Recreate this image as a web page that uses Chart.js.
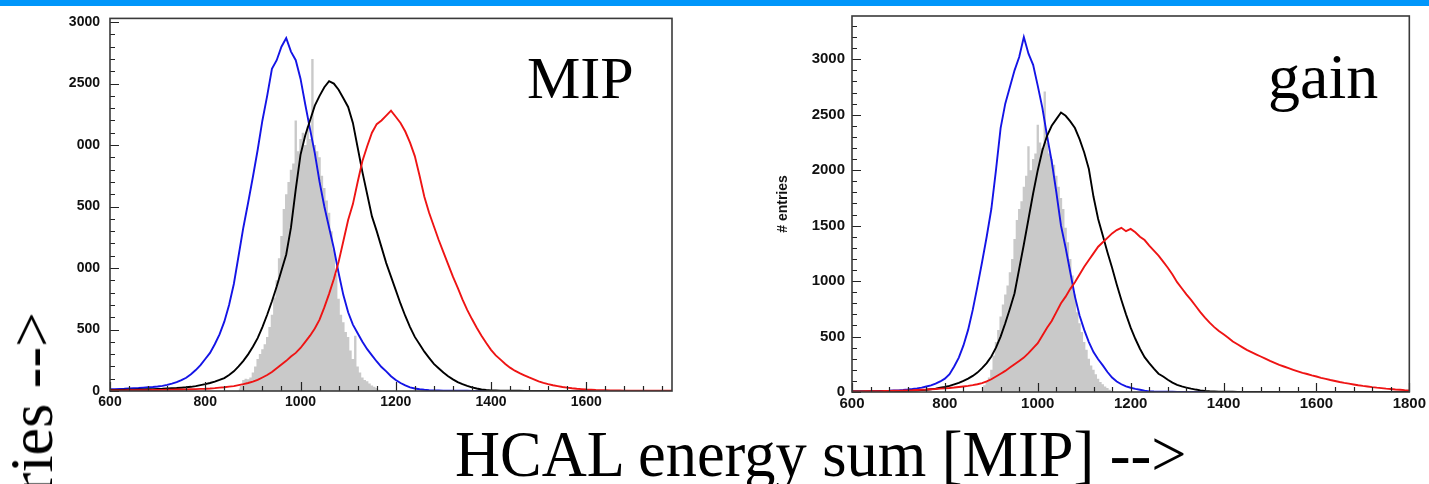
<!DOCTYPE html>
<html>
<head>
<meta charset="utf-8">
<title>HCAL energy sum</title>
<script src="https://cdn.jsdelivr.net/npm/chart.js@4.4.0/dist/chart.umd.min.js"></script>
<style>
  html, body { margin: 0; padding: 0; background: #fff; width: 1429px; height: 484px; overflow: hidden; position: relative; }
  .bar { position: absolute; left: 0; top: 0; width: 1429px; height: 6px; background: #0096fa; }
  canvas { position: absolute; }
  #cMip { left: 0; top: 0; }
  #cGain { left: 730px; top: 0; }
  .serif { position: absolute; font-family: "Liberation Serif", "Times New Roman", serif; line-height: 1; white-space: nowrap; color: #000; }
</style>
</head>
<body>
<div class="bar"></div>
<canvas id="cMip" width="700" height="420"></canvas>
<canvas id="cGain" width="699" height="420"></canvas>
<div class="serif" style="left:527px; top:48px; font-size:60px;">MIP</div>
<div class="serif" style="left:1268px; top:45px; font-size:64px;">gain</div>
<div class="serif" style="left:455px; top:421px; font-size:66px; transform-origin:0 0; transform:scaleX(0.945);">HCAL energy sum [MIP] --&gt;</div>
<div class="serif" style="left:0; top:312px; font-size:62px; transform-origin:0 0; transform:rotate(-90deg) translateX(-100%);"># entries --&gt;</div>

<script>
// ---------- energy grids ----------
function grid(from, to, step) { const g = []; for (let e = from; e <= to + 1e-9; e += step) g.push(e); return g; }
const energyMip  = grid(600, 1780, 10);   // bin centres, MIP-calibrated panel
const energyGain = grid(600, 1800, 10);   // bin centres, gain-calibrated panel
const grayEnergyMip  = grid(870, 1170, 5);
const grayEnergyGain = grid(880, 1165, 5);

// ---------- MIP panel entries ----------
const mipBlue = [
  15,15,17,18,20,22,24,27,30,33,
  37,42,50,60,72,88,108,137,170,210,
  260,310,380,460,564,700,870,1100,1330,1531,
  1740,1960,2200,2400,2620,2690,2800,2870,2760,2690,
  2540,2330,2130,1935,1700,1500,1330,1160,960,780,
  640,540,470,400,340,290,240,195,160,120,
  90,65,45,30,20,14,10,7,5,4,
  3,3,2,2,2,2,1,1,1,1,
  1,1,1,1,1,1,1,1,1,1,
  0,0,0,0,0,0,0,0,0,0,
  0,0,0,0,0,0,0,0,0,0,
  0,0,0,0,0,0,0,0,0
];
const mipBlack = [
  8,8,9,10,10,11,12,13,14,15,
  17,18,20,22,24,27,30,34,40,48,
  56,65,76,90,105,130,160,200,245,298,
  360,430,520,620,730,850,980,1110,1330,1640,
  1920,2080,2200,2320,2400,2470,2520,2500,2450,2380,
  2310,2180,1980,1780,1600,1420,1300,1170,1040,930,
  820,710,610,520,440,380,320,270,220,185,
  150,120,95,72,55,42,30,20,12,8,
  5,4,3,3,2,2,2,1,1,1,
  1,1,1,1,1,1,0,0,0,0,
  0,0,0,0,0,0,0,0,0,0,
  0,0,0,0,0,0,0,0,0
];
const mipRed = [
  5,5,5,5,6,6,6,7,7,8,
  8,9,10,11,12,12,13,14,15,17,
  18,20,23,27,31,36,40,48,56,65,
  76,90,110,130,155,185,215,245,280,310,
  350,400,450,508,580,680,790,910,1050,1220,
  1390,1520,1700,1870,1990,2100,2170,2200,2240,2280,
  2230,2180,2110,2020,1910,1750,1580,1450,1340,1230,
  1130,1030,930,840,745,660,585,515,450,390,
  335,290,255,220,190,165,145,128,110,94,
  78,66,56,47,40,33,27,22,18,15,
  12,10,8,7,6,5,4,4,3,3,
  3,2,2,2,2,2,2,2,2
];
const mipGray = [
  20,40,90,100,95,110,150,200,260,300,
  340,380,440,520,620,760,900,1080,1260,1480,
  1600,1700,1800,1850,2200,1950,2050,2100,2000,2150,
  2050,2700,2000,1950,1900,1750,1650,1550,1450,1300,
  1150,950,750,620,560,480,440,330,260,450,
  200,150,110,90,80,60,45,35,25,10,
  0
];

// ---------- gain panel entries ----------
const gainBlue = [
  5,5,6,6,7,8,9,10,11,13,
  15,18,22,27,33,40,50,60,75,95,
  120,160,230,310,420,560,740,950,1170,1400,
  1650,2000,2380,2600,2750,2900,3020,3200,3050,2950,
  2760,2560,2310,2080,1800,1500,1300,1080,860,690,
  560,450,360,295,240,180,130,95,70,50,
  38,28,20,12,6,4,3,2,2,2,
  1,1,1,1,1,1,1,1,1,1,
  0,0,0,0,0,0,0,0,0,0,
  0,0,0,0,0,0,0,0,0,0,
  0,0,0,0,0,0,0,0,0,0,
  0,0,0,0,0,0,0,0,0,0,0
];
const gainBlack = [
  5,5,5,5,6,6,6,7,7,8,
  8,9,10,12,14,17,20,25,30,38,
  45,55,68,82,100,120,145,175,215,260,
  320,400,500,620,750,890,1110,1330,1560,1790,
  2000,2180,2310,2400,2460,2520,2490,2440,2380,2280,
  2160,2010,1760,1560,1410,1260,1120,970,830,700,
  580,480,390,314,260,210,165,140,110,85,
  65,50,40,30,22,15,10,7,5,3,
  2,2,2,1,1,1,1,1,1,1,
  1,1,1,1,0,0,0,0,0,0,
  0,0,0,0,0,0,0,0,0,0,
  0,0,0,0,0,0,0,0,0,0,0
];
const gainRed = [
  5,6,6,7,7,8,8,9,10,11,
  12,13,15,16,18,20,22,25,27,30,
  33,36,40,45,50,55,62,70,80,95,
  115,140,165,190,220,250,280,310,350,395,
  440,510,580,640,720,800,860,930,990,1060,
  1130,1190,1250,1310,1350,1390,1430,1460,1480,1450,
  1470,1440,1400,1370,1320,1275,1230,1175,1120,1060,
  990,935,880,830,775,720,670,625,585,550,
  520,490,455,430,405,380,360,340,320,300,
  280,262,245,230,215,200,186,173,162,150,
  140,128,118,108,99,90,82,75,68,61,
  55,50,44,39,35,30,27,23,20,17,15
];
const gainGray = [
  40,60,90,130,200,330,450,560,680,790,
  880,960,1080,1200,1380,1550,1650,1720,1850,1950,
  2215,2000,2100,2150,2410,2250,2200,2709,2250,2150,
  2100,2050,1950,1850,1750,1650,1480,1350,1200,1050,
  880,720,620,540,450,380,300,240,200,160,
  120,90,70,50,35,20,10,0
];

// ---------- tick labels ----------
const yTicksMip   = [0, 500, 1000, 1500, 2000, 2500, 3000];
const yLabelsMip  = ['0', '500', '000', '500', '000', '2500', '3000'];
const yTicksGain  = [0, 500, 1000, 1500, 2000, 2500, 3000];
const yLabelsGain = ['0', '500', '1000', '1500', '2000', '2500', '3000'];
const xTicksMip   = [600, 800, 1000, 1200, 1400, 1600];
const xTicksGain  = [600, 800, 1000, 1200, 1400, 1600, 1800];

// ---------- styling ----------
const BLUE = '#1414e6', BLACK = '#000000', RED = '#ee1414', GRAY = '#c9c9c9';
Chart.defaults.font.family = '"Liberation Sans", Arial, sans-serif';

// axis frame with inward major/minor ticks, drawn from the chart's own scales
const rootFrame = {
  id: 'rootFrame',
  afterDatasetsDraw(chart, args, o) {
    const { ctx, chartArea: a, scales: { x, y } } = chart;
    ctx.save();
    ctx.strokeStyle = '#222';
    ctx.lineWidth = 1.2;
    ctx.beginPath();
    for (let v = 0; v <= y.max + 1e-6; v += o.yMinor) {
      const py = Math.round(y.getPixelForValue(v)) + 0.5;
      const len = (v % o.yMajor === 0) ? 9 : 5;
      ctx.moveTo(a.left, py); ctx.lineTo(a.left + len, py);
    }
    for (let v = x.min; v <= x.max + 1e-6; v += o.xMinor) {
      const px = Math.round(x.getPixelForValue(v)) + 0.5;
      const len = ((v - x.min) % o.xMajor === 0) ? 9 : 5;
      ctx.moveTo(px, a.bottom); ctx.lineTo(px, a.bottom - len);
    }
    ctx.stroke();
    ctx.lineWidth = 1.6;
    ctx.strokeStyle = '#3a3a3a';
    ctx.strokeRect(a.left, a.top, a.right - a.left, a.bottom - a.top);
    ctx.restore();
  }
};

function line(xs, ys, color, order) {
  return {
    data: xs.map((e, i) => ({ x: e, y: ys[i] })),
    borderColor: color, borderWidth: 1.9, pointRadius: 0, tension: 0, fill: false, order
  };
}
function filled(xs, ys, order) {
  return {
    data: xs.map((e, i) => ({ x: e, y: ys[i] })),
    stepped: 'middle', borderWidth: 0, pointRadius: 0, fill: 'origin', backgroundColor: GRAY, order
  };
}

function panel(id, cfg) {
  new Chart(document.getElementById(id), {
    type: 'line',
    data: {
      // the gray reference histogram sits underneath the three curves
      datasets: [
        filled(cfg.grayEnergy, cfg.gray, 4),
        line(cfg.energy, cfg.blue, BLUE, 3),
        line(cfg.energy, cfg.black, BLACK, 2),
        line(cfg.energy, cfg.red, RED, 1)
      ]
    },
    options: {
      responsive: false,
      devicePixelRatio: 1,
      animation: false,
      layout: { padding: { left: 0, top: cfg.top, right: cfg.right, bottom: 0 } },
      plugins: {
        legend: { display: false },
        tooltip: { enabled: false },
        filler: { drawTime: 'beforeDatasetsDraw' },
        rootFrame: { yMajor: 500, yMinor: 100, xMajor: 200, xMinor: 40 }
      },
      scales: {
        x: {
          type: 'linear', min: 600, max: cfg.xMax,
          afterBuildTicks: s => { s.ticks = cfg.xTicks.map(v => ({ value: v })); },
          afterFit: s => { s.height = cfg.xHeight; },
          grid: { display: false, drawTicks: false },
          border: { display: false },
          ticks: { autoSkip: false, maxRotation: 0, padding: 3, color: '#111',
                   font: { size: cfg.fontSize, weight: 'bold' }, callback: v => String(v) }
        },
        y: {
          type: 'linear', min: 0, max: cfg.yMax,
          afterBuildTicks: s => { s.ticks = cfg.yTicks.map(v => ({ value: v })); },
          afterFit: s => { s.width = cfg.yWidth; },
          grid: { display: false, drawTicks: false },
          border: { display: false },
          ticks: { padding: cfg.yPad, color: '#111', font: { size: cfg.fontSize, weight: 'bold' },
                   callback: v => cfg.yLabels[cfg.yTicks.indexOf(v)] },
          title: cfg.yTitle ? { display: true, text: cfg.yTitle, color: '#111',
                   font: { size: 14, weight: 'bold' }, padding: { top: cfg.yTitlePad, bottom: 0 } } : { display: false }
        }
      }
    },
    plugins: [rootFrame]
  });
}

panel('cMip', {
  energy: energyMip, blue: mipBlue, black: mipBlack, red: mipRed,
  grayEnergy: grayEnergyMip, gray: mipGray,
  xMax: 1780, yMax: 3030, xTicks: xTicksMip, yTicks: yTicksMip, yLabels: yLabelsMip,
  top: 16, right: 28, xHeight: 29, yWidth: 110, yPad: 10, fontSize: 14
});

panel('cGain', {
  energy: energyGain, blue: gainBlue, black: gainBlack, red: gainRed,
  grayEnergy: grayEnergyGain, gray: gainGray,
  xMax: 1800, yMax: 3390, xTicks: xTicksGain, yTicks: yTicksGain, yLabels: yLabelsGain,
  top: 16, right: 19, xHeight: 28, yWidth: 122, yPad: 7, fontSize: 15,
  yTitle: '# entries', yTitlePad: 45
});
</script>
</body>
</html>
